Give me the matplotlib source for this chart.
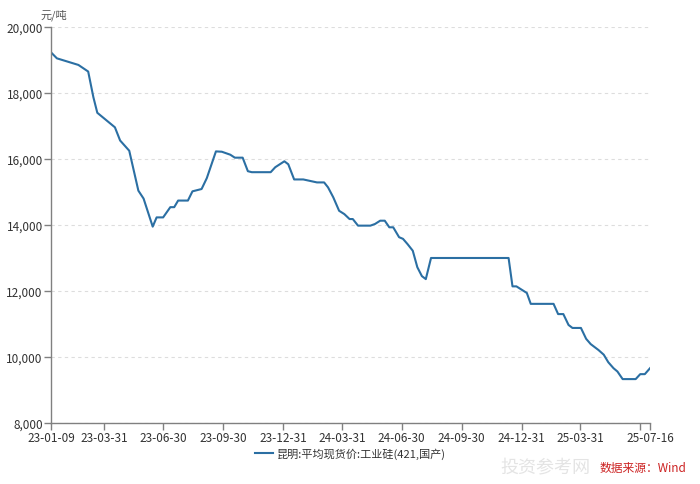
"""
Kunming industrial silicon (421) average spot price, 2023-01 to 2025-07
"""
import pandas as pd
import matplotlib
matplotlib.use('Agg')
from matplotlib import pyplot as plt
from matplotlib.ticker import FuncFormatter

plt.rcParams['font.family'] = ['Noto Sans CJK SC', 'DejaVu Sans']

# Data
dates = [
    '2023-01-09', '2023-01-18', '2023-02-20', '2023-03-07', '2023-03-15',
    '2023-03-21', '2023-04-17', '2023-04-25', '2023-05-09', '2023-05-23',
    '2023-05-31', '2023-06-14', '2023-06-20', '2023-06-30', '2023-07-11',
    '2023-07-17', '2023-07-23', '2023-08-07', '2023-08-14', '2023-08-28',
    '2023-09-05', '2023-09-19', '2023-09-28', '2023-10-11', '2023-10-18',
    '2023-10-30', '2023-11-07', '2023-11-13', '2023-12-12', '2023-12-19',
    '2024-01-02', '2024-01-08', '2024-01-17', '2024-01-31', '2024-02-21',
    '2024-03-03', '2024-03-09', '2024-03-17', '2024-03-26', '2024-04-03',
    '2024-04-11', '2024-04-16', '2024-04-24', '2024-05-13', '2024-05-20',
    '2024-05-28', '2024-06-04', '2024-06-11', '2024-06-17', '2024-06-26',
    '2024-07-02', '2024-07-09', '2024-07-17', '2024-07-24', '2024-07-31',
    '2024-08-06', '2024-08-14', '2024-12-11', '2024-12-17', '2024-12-23',
    '2025-01-08', '2025-01-14', '2025-02-18', '2025-02-25', '2025-03-05',
    '2025-03-13', '2025-03-19', '2025-04-01', '2025-04-09', '2025-04-16',
    '2025-04-28', '2025-05-06', '2025-05-13', '2025-05-21', '2025-05-27',
    '2025-06-04', '2025-06-24', '2025-07-01', '2025-07-08', '2025-07-16',
]
prices = [
    19230, 19050, 18850, 18650, 17870,
    17400, 16960, 16560, 16250, 15040,
    14800, 13950, 14230, 14230, 14540,
    14540, 14740, 14740, 15020, 15090,
    15420, 16230, 16220, 16130, 16040,
    16040, 15630, 15600, 15600, 15750,
    15930, 15840, 15380, 15380, 15290,
    15290, 15140, 14840, 14430, 14330,
    14180, 14180, 13980, 13980, 14030,
    14130, 14130, 13930, 13930, 13630,
    13580, 13420, 13220, 12720, 12450,
    12360, 13000, 13000, 12140, 12140,
    11940, 11610, 11610, 11300, 11300,
    10970, 10880, 10880, 10550, 10390,
    10210, 10070, 9840, 9660, 9560,
    9330, 9330, 9480, 9480, 9660,
]
tick_dates = ['2023-01-09', '2023-03-31', '2023-06-30', '2023-09-30',
              '2023-12-31', '2024-03-31', '2024-06-30', '2024-09-30',
              '2024-12-31', '2025-03-31', '2025-06-30', '2025-07-16']
tick_labels = ['23-01-09', '23-03-31', '23-06-30', '23-09-30',
               '23-12-31', '24-03-31', '24-06-30', '24-09-30',
               '24-12-31', '25-03-31', '', '25-07-16']
y_ticks = [8000, 10000, 12000, 14000, 16000, 18000, 20000]
series_name = '昆明:平均现货价:工业硅(421,国产)'


def main():
    x = pd.to_datetime(dates)
    fig = plt.figure(figsize=(7, 4.85), dpi=100)
    ax = fig.add_axes([0.0729, 0.1258, 0.8557, 0.8165])

    ax.plot(x, prices, color='#2b6fa3', linewidth=1.5, label=series_name)

    # Axes
    ax.set_xlim(pd.Timestamp('2023-01-09'), pd.Timestamp('2025-07-16'))
    ax.set_ylim(8000, 20000)
    ax.set_xticks(pd.to_datetime(tick_dates))
    ax.set_xticklabels(tick_labels)
    ax.set_yticks(y_ticks)
    ax.yaxis.set_major_formatter(FuncFormatter(lambda v, p: f'{int(v):,}'))
    ax.grid(axis='y', color='#dddddd', linestyle=(0, (3, 3)), linewidth=0.8)
    ax.set_axisbelow(True)
    for s in ['top', 'right']:
        ax.spines[s].set_visible(False)
    for s in ['left', 'bottom']:
        ax.spines[s].set_color('#808080')
        ax.spines[s].set_linewidth(1.0)
    ax.tick_params(axis='both', colors='#808080', length=5, width=1,
                   labelcolor='#333333', labelsize=8.5, pad=1)

    ax.text(-0.018, 1.018, '元/吨', transform=ax.transAxes, fontsize=8,
            color='#555555', ha='left', va='bottom')

    ax.legend(loc='upper center', bbox_to_anchor=(0.5, -0.038), frameon=False,
              fontsize=8, handlelength=1.6, handletextpad=0.4, labelcolor='#333333')

    # Watermark and source note
    fig.text(0.715, 0.035, '投资参考网', fontsize=13, color='#e4e4e4',
             ha='left', va='center')
    fig.text(0.98, 0.035, '数据来源：Wind', fontsize=8.5, color='#cc2222',
             ha='right', va='center')

    fig.savefig('out.png', dpi=100)


if __name__ == '__main__':
    main()
